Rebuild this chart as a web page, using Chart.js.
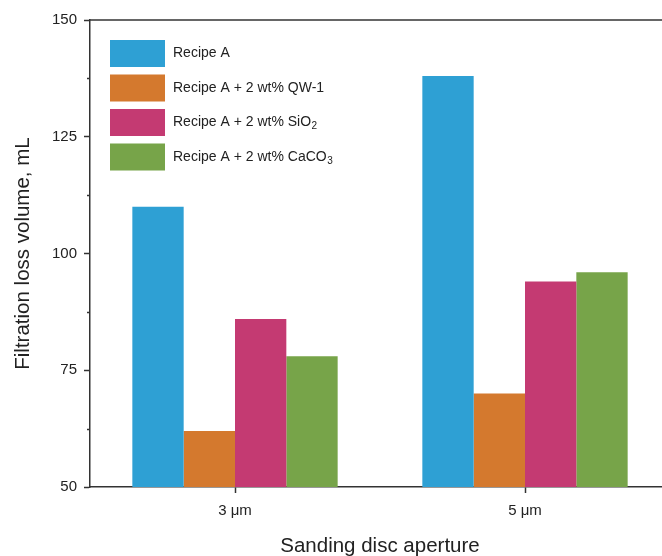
<!DOCTYPE html>
<html>
<head>
<meta charset="utf-8">
<style>
  html, body { margin: 0; padding: 0; background: #fff; overflow: hidden; }
  #wrap { width: 662px; height: 556px; overflow: hidden; }
  canvas { display: block; }
</style>
<script src="https://cdn.jsdelivr.net/npm/chart.js@4/dist/chart.umd.min.js"></script>
</head>
<body>
<div id="wrap"><canvas id="c" width="670" height="556"></canvas></div>
<script>
// Filtration loss per sanding disc aperture
const apertures = ['3 μm', '5 μm'];
const recipeA      = [110, 138];
const recipeQW1    = [62, 70];
const recipeSiO2   = [86, 94];
const recipeCaCO3  = [78, 96];

// Legend text: [main text, subscript]
const seriesNames = [
  ['Recipe A', ''],
  ['Recipe A + 2 wt% QW-1', ''],
  ['Recipe A + 2 wt% SiO', '2'],
  ['Recipe A + 2 wt% CaCO', '3']
];
const seriesColors = ['#2EA0D4', '#D4792E', '#C43A72', '#77A449'];

const yMin = 50, yMax = 150, yMajor = 25;
const yTitle = 'Filtration loss volume, mL';
const xTitle = 'Sanding disc aperture';

const FONT = '"Liberation Sans", Arial, sans-serif';
const INK = '#222';
const AXIS = '#333';

// Top frame line, minor y ticks and the boxed legend with subscripts
const decor = {
  id: 'decor',
  afterDraw(chart) {
    const ctx = chart.ctx;
    const ca = chart.chartArea;
    const y = chart.scales.y;
    ctx.save();
    ctx.strokeStyle = AXIS;
    ctx.lineWidth = 1.5;
    ctx.beginPath();
    ctx.moveTo(ca.left, ca.top);
    ctx.lineTo(ca.right, ca.top);
    ctx.stroke();
    // minor ticks halfway between labelled ticks
    for (let v = yMin + yMajor / 2; v < yMax; v += yMajor) {
      const py = Math.round(y.getPixelForValue(v)) + 0.5;
      ctx.beginPath();
      ctx.moveTo(ca.left - 3, py);
      ctx.lineTo(ca.left, py);
      ctx.stroke();
    }
    // legend
    const bx = ca.left + 20, by0 = ca.top + 20, bw = 55, bh = 27, gap = 34.5;
    seriesNames.forEach((nm, i) => {
      const by = by0 + i * gap;
      ctx.fillStyle = seriesColors[i];
      ctx.fillRect(bx, by, bw, bh);
      ctx.fillStyle = INK;
      ctx.textBaseline = 'middle';
      ctx.textAlign = 'left';
      ctx.font = '14px ' + FONT;
      const tx = bx + bw + 8, ty = by + bh / 2;
      ctx.fillText(nm[0], tx, ty);
      if (nm[1]) {
        const w = ctx.measureText(nm[0]).width;
        ctx.font = '10px ' + FONT;
        ctx.fillText(nm[1], tx + w + 0.5, ty + 4);
      }
    });
    ctx.restore();
  }
};

const series = [recipeA, recipeQW1, recipeSiO2, recipeCaCO3];

new Chart(document.getElementById('c'), {
  type: 'bar',
  data: {
    labels: apertures,
    datasets: series.map((vals, i) => ({
      label: seriesNames[i].join(''),
      data: vals,
      backgroundColor: seriesColors[i],
      borderWidth: 0,
      barPercentage: 1.0,
      categoryPercentage: 0.708
    }))
  },
  options: {
    responsive: false,
    devicePixelRatio: 1,
    animation: false,
    layout: { padding: { left: 11, right: 0, top: 20, bottom: 0 } },
    plugins: { legend: { display: false }, tooltip: { enabled: false } },
    scales: {
      x: {
        grid: { display: true, offset: false, drawOnChartArea: false, tickLength: 6, color: AXIS, tickWidth: 1.5 },
        border: { display: true, color: AXIS, width: 1.5 },
        ticks: { color: INK, font: { family: FONT, size: 15 }, padding: 9 },
        title: { display: true, text: xTitle, color: INK, font: { family: FONT, size: 20.5 }, padding: { top: 0, bottom: -3 } },
        afterFit(s) { s.height = 69; }
      },
      y: {
        min: yMin, max: yMax,
        grid: { display: true, drawOnChartArea: false, tickLength: 6, color: AXIS, tickWidth: 1.5 },
        border: { display: true, color: AXIS, width: 1.5 },
        ticks: { stepSize: yMajor, color: INK, font: { family: FONT, size: 15 }, padding: 7 },
        title: { display: true, text: yTitle, color: INK, font: { family: FONT, size: 20.5 }, padding: { top: 0, bottom: 0 } },
        afterFit(s) { s.width = 79; }
      }
    }
  },
  plugins: [decor]
});
</script>
</body>
</html>
